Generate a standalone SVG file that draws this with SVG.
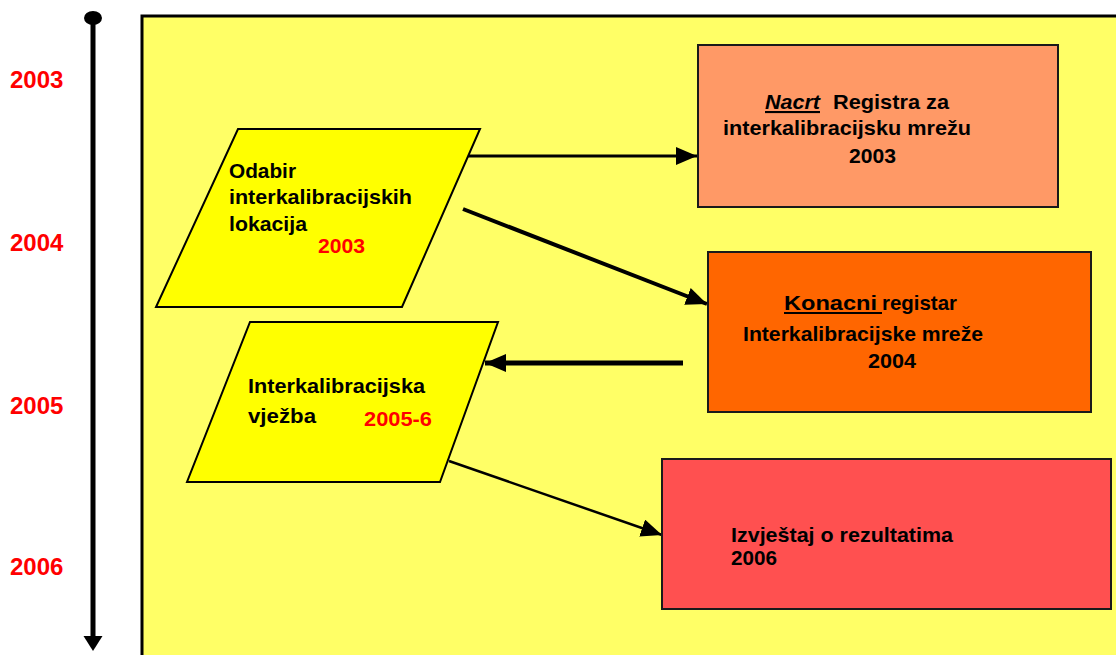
<svg xmlns="http://www.w3.org/2000/svg" width="1116" height="655" viewBox="0 0 1116 655">
<style>
text { font-family: "Liberation Sans", Arial, sans-serif; font-weight: bold; }
.yr { font-size: 24px; fill: #FF0000; }
.t { font-size: 21px; fill: #000000; }
.r { font-size: 20px; fill: #FF0000; }
.box { stroke: #1a1a1a; stroke-width: 2; }
.para { fill: #FFFF00; stroke: #000; stroke-width: 2; }
.conn { stroke: #000; fill: none; }
</style>
<defs>
<marker id="ah" viewBox="0 0 21 18" refX="21" refY="9" markerWidth="21" markerHeight="18" markerUnits="userSpaceOnUse" orient="auto">
<path d="M0,0 L21,9 L0,18 Z" fill="#000"/>
</marker>
</defs>
<rect x="0" y="0" width="1116" height="655" fill="#FFFFFF"/>
<g id="background">
<rect x="142" y="16" width="990" height="660" fill="#FFFF66" stroke="#000" stroke-width="3"/>
</g>
<g id="timeline">
<ellipse cx="93" cy="18" rx="9" ry="7" fill="#000"/>
<line x1="93" y1="18" x2="93" y2="640" stroke="#000" stroke-width="5"/>
<polygon points="83.5,636 102.5,636 93,651" fill="#000"/>
<text class="yr" x="10" y="88">2003</text>
<text class="yr" x="10" y="251">2004</text>
<text class="yr" x="10" y="414">2005</text>
<text class="yr" x="10" y="575">2006</text>
</g>
<g id="connectors">
<line class="conn" x1="465" y1="156" x2="697" y2="156" stroke-width="3" marker-end="url(#ah)"/>
<line class="conn" x1="463" y1="209" x2="707" y2="304" stroke-width="4" marker-end="url(#ah)"/>
<line class="conn" x1="683" y1="363" x2="485" y2="363" stroke-width="5" marker-end="url(#ah)"/>
<line class="conn" x1="449" y1="461" x2="662" y2="535" stroke-width="2.5" marker-end="url(#ah)"/>
</g>
<g id="odabir">
<polygon class="para" points="238,129 480,129 402,307 156,307"/>
<text class="t" x="229" y="178" textLength="67" lengthAdjust="spacingAndGlyphs">Odabir</text>
<text class="t" x="229" y="204" textLength="183" lengthAdjust="spacingAndGlyphs">interkalibracijskih</text>
<text class="t" x="229" y="231" textLength="78" lengthAdjust="spacingAndGlyphs">lokacija</text>
<text class="r" x="318" y="253" textLength="47" lengthAdjust="spacingAndGlyphs">2003</text>
</g>
<g id="vjezba">
<polygon class="para" points="250,322 498,322 440,482 187,482"/>
<text class="t" x="248" y="393" textLength="177" lengthAdjust="spacingAndGlyphs">Interkalibracijska</text>
<text class="t" x="248" y="423" textLength="68" lengthAdjust="spacingAndGlyphs">vježba</text>
<text class="r" x="364" y="426" textLength="68" lengthAdjust="spacingAndGlyphs">2005-6</text>
</g>
<g id="nacrt">
<rect class="box" x="698" y="45" width="360" height="162" fill="#FF9966"/>
<text class="t" x="765" y="109" font-style="italic" text-decoration="underline" textLength="55" lengthAdjust="spacingAndGlyphs">Nacrt</text>
<text class="t" x="833" y="109" textLength="116" lengthAdjust="spacingAndGlyphs">Registra za</text>
<text class="t" x="723" y="135" textLength="248" lengthAdjust="spacingAndGlyphs">interkalibracijsku  mrežu</text>
<text class="t" x="849" y="163" textLength="47" lengthAdjust="spacingAndGlyphs">2003</text>
</g>
<g id="konacni">
<rect class="box" x="708" y="252" width="383" height="160" fill="#FF6600"/>
<text class="t" x="784" y="310" textLength="93" lengthAdjust="spacingAndGlyphs">Konacni</text>
<line x1="784" y1="313" x2="882" y2="313" stroke="#000" stroke-width="1.8"/>
<text class="t" x="882" y="310" textLength="75" lengthAdjust="spacingAndGlyphs">registar</text>
<text class="t" x="743" y="341" textLength="240" lengthAdjust="spacingAndGlyphs">Interkalibracijske mreže</text>
<text class="t" x="868" y="368" textLength="48" lengthAdjust="spacingAndGlyphs">2004</text>
</g>
<g id="izvjestaj">
<rect class="box" x="662" y="459" width="449" height="150" fill="#FF5050"/>
<text class="t" x="731" y="542" textLength="222" lengthAdjust="spacingAndGlyphs">Izvještaj o rezultatima</text>
<text class="t" x="731" y="565" textLength="46" lengthAdjust="spacingAndGlyphs">2006</text>
</g>
</svg>
